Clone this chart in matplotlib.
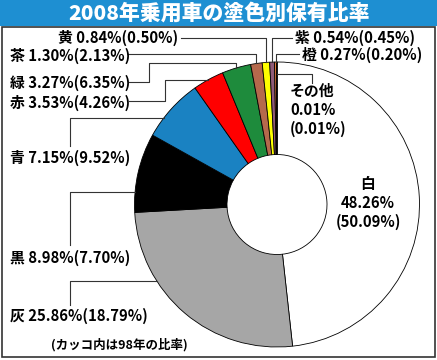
import numpy as np
import matplotlib.pyplot as plt
from matplotlib.patches import Rectangle

plt.rcParams['font.family'] = ['Noto Sans CJK JP', 'DejaVu Sans']

# data (2008 share, with 1998 share in brackets)
names = ['白', '灰', '黒', '青', '赤', '緑', '茶', '黄', '紫', '橙', 'その他']
share_2008 = [48.26, 25.86, 8.98, 7.15, 3.53, 3.27, 1.30, 0.84, 0.54, 0.27, 0.01]
share_1998 = [50.09, 18.79, 7.70, 9.52, 4.26, 6.35, 2.13, 0.50, 0.45, 0.20, 0.01]
colors = ['#ffffff', '#a6a6a6', '#000000', '#1a82c2', '#ff0000', '#1e8b3c',
          '#b5694c', '#ffff00', '#8e5a78', '#e07a3a', '#c8a0a0']
title = '2008年乗用車の塗色別保有比率'
note = '(カッコ内は98年の比率)'

W, H = 437, 360
fig = plt.figure(figsize=(W / 100, H / 100), dpi=100)
ax = fig.add_axes([0, 0, 1, 1])

cx, cy, R = 277, 204.5, 142.5
# y axis runs downward (pixel-like), so counterclock in data = clockwise on screen
wedges, _ = ax.pie(share_2008, colors=colors, center=(cx, cy), radius=R,
                   startangle=-90, counterclock=True,
                   wedgeprops=dict(width=R - 50, edgecolor='black', linewidth=0.6))
ax.set_xlim(0, W)
ax.set_ylim(H, 0)
ax.axis('off')


def mid_point(i, r=R):
    w = wedges[i]
    t = np.deg2rad((w.theta1 + w.theta2) / 2)
    return cx + r * np.cos(t), cy + r * np.sin(t)


def edge_x(y):
    return cx - np.sqrt(R ** 2 - (y - cy) ** 2)


line_kw = dict(color='#333333', linewidth=0.8)
text_kw = dict(fontsize=10.7, fontweight='bold', va='center', color='black')


def label(i):
    return f'{names[i]} {share_2008[i]:.2f}%({share_1998[i]:.2f}%)'


# labels hanging from the top of the ring
top_specs = {7: (178, 38, 'right', 181), 8: (295, 38, 'left', 292),
             6: (10, 56, 'left', 128), 9: (302, 55, 'left', 299)}
for i, (tx, ty, ha, lx) in top_specs.items():
    ax.text(tx, ty, label(i), ha=ha, **text_kw)
    xw, yw = mid_point(i)
    ly = 38 if ty == 38 else 54
    ax.plot([lx, xw, xw], [ly, ly, yw], **line_kw)

# green
ax.text(10, 83, label(5), ha='left', **text_kw)
xw, yw = mid_point(5)
ax.plot([129, 149, 149, xw, xw], [82, 82, 63, 63, yw], **line_kw)

# red
ax.text(10, 103, label(4), ha='left', **text_kw)
ax.plot([129, 165, 165, edge_x(80)], [101, 101, 80, 80], **line_kw)

# blue, black, grey on the left
for i, ty, y0, yh in [(3, 158, 146, 118), (2, 258, 245, 192), (1, 316, 305, 281)]:
    ax.text(10, ty, label(i), ha='left', **text_kw)
    ax.plot([70, 70, edge_x(yh)], [y0, yh, yh], **line_kw)

# other
xo, yo = mid_point(10, R - 12)
ax.plot([xo, 312, 312], [yo, yo, 83], **line_kw)
ax.text(290, 110, f'{names[10]}\n{share_2008[10]:.2f}%\n({share_1998[10]:.2f}%)',
        ha='left', linespacing=1.2, **text_kw)

# white, inside the ring
ax.text(368, 203, f'{names[0]}\n{share_2008[0]:.2f}%\n({share_1998[0]:.2f}%)',
        ha='center', linespacing=1.2, **text_kw)

ax.text(119, 345, note, ha='center', va='center', fontsize=9, fontweight='bold')

# title bar and frame
ax.add_patch(Rectangle((0, 0), W, 26, facecolor='#1e8fd2', edgecolor='none', zorder=3))
ax.text(W / 2 + 1, 13, title, ha='center', va='center', fontsize=15,
        fontweight='heavy', color='white', zorder=4)
ax.add_patch(Rectangle((2, 27), W - 4, H - 30, facecolor='none',
                       edgecolor='#333333', linewidth=1.2, zorder=3))

fig.savefig('out.png', dpi=100)
